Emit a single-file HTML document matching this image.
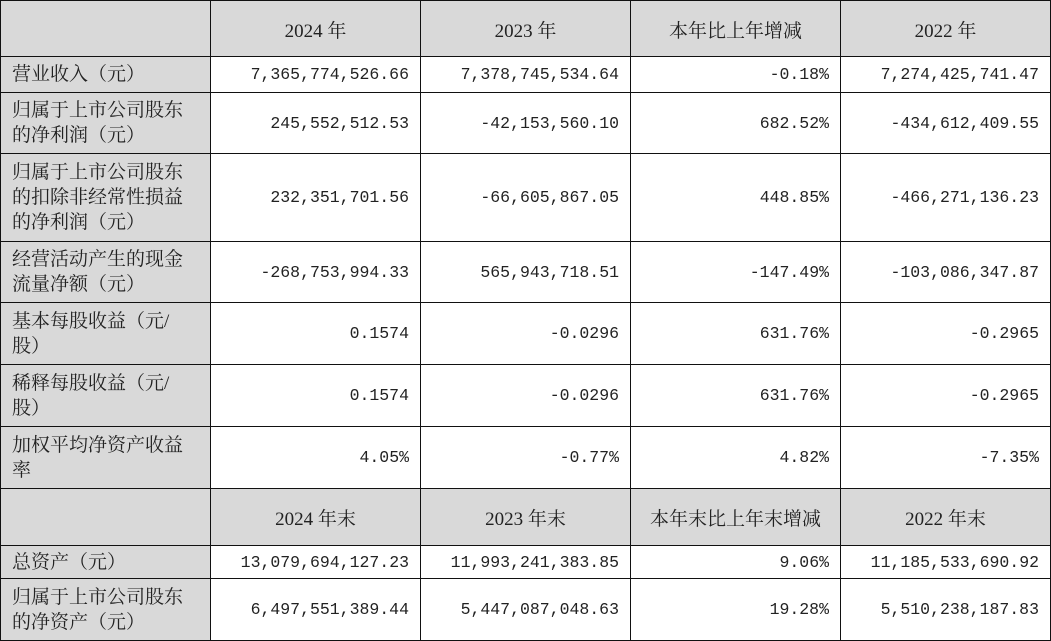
<!DOCTYPE html>
<html><head><meta charset="utf-8"><style>
body{margin:0;background:#fff;width:1051px;height:641px;overflow:hidden}
table{border-collapse:collapse;table-layout:fixed;width:1050px;position:absolute;left:0;top:0}
td{border:1.5px solid #111;padding:0 11px;font-family:"Liberation Serif","Noto Serif CJK SC",serif;font-size:19px;color:#222;line-height:25px;box-sizing:border-box}
td.n{text-align:right;font-family:"Liberation Mono","Noto Serif CJK SC",monospace;font-size:16.5px}
tr.h td{background:#d9d9d9;text-align:center;font-size:19px;padding-top:5px}
td.l{background:#d9d9d9;text-align:left;padding-right:20px}
</style></head><body>
<table>
<col style="width:210px"><col style="width:210px"><col style="width:210px"><col style="width:210px"><col style="width:210px">
<tr class="h" style="height:56px"><td></td><td>2024 年</td><td>2023 年</td><td>本年比上年增减</td><td>2022 年</td></tr>
<tr style="height:36px"><td class="l">营业收入（元）</td><td class="n">7,365,774,526.66</td><td class="n">7,378,745,534.64</td><td class="n">-0.18%</td><td class="n">7,274,425,741.47</td></tr>
<tr style="height:61px"><td class="l">归属于上市公司股东的净利润（元）</td><td class="n">245,552,512.53</td><td class="n">-42,153,560.10</td><td class="n">682.52%</td><td class="n">-434,612,409.55</td></tr>
<tr style="height:88px"><td class="l">归属于上市公司股东的扣除非经常性损益的净利润（元）</td><td class="n">232,351,701.56</td><td class="n">-66,605,867.05</td><td class="n">448.85%</td><td class="n">-466,271,136.23</td></tr>
<tr style="height:61px"><td class="l">经营活动产生的现金流量净额（元）</td><td class="n">-268,753,994.33</td><td class="n">565,943,718.51</td><td class="n">-147.49%</td><td class="n">-103,086,347.87</td></tr>
<tr style="height:62px"><td class="l">基本每股收益（元/<br>股）</td><td class="n">0.1574</td><td class="n">-0.0296</td><td class="n">631.76%</td><td class="n">-0.2965</td></tr>
<tr style="height:62px"><td class="l">稀释每股收益（元/<br>股）</td><td class="n">0.1574</td><td class="n">-0.0296</td><td class="n">631.76%</td><td class="n">-0.2965</td></tr>
<tr style="height:62px"><td class="l">加权平均净资产收益率</td><td class="n">4.05%</td><td class="n">-0.77%</td><td class="n">4.82%</td><td class="n">-7.35%</td></tr>
<tr class="h" style="height:57px"><td></td><td>2024 年末</td><td>2023 年末</td><td>本年末比上年末增减</td><td>2022 年末</td></tr>
<tr style="height:33px"><td class="l">总资产（元）</td><td class="n">13,079,694,127.23</td><td class="n">11,993,241,383.85</td><td class="n">9.06%</td><td class="n">11,185,533,690.92</td></tr>
<tr style="height:62px"><td class="l">归属于上市公司股东的净资产（元）</td><td class="n">6,497,551,389.44</td><td class="n">5,447,087,048.63</td><td class="n">19.28%</td><td class="n">5,510,238,187.83</td></tr>
</table>
</body></html>
